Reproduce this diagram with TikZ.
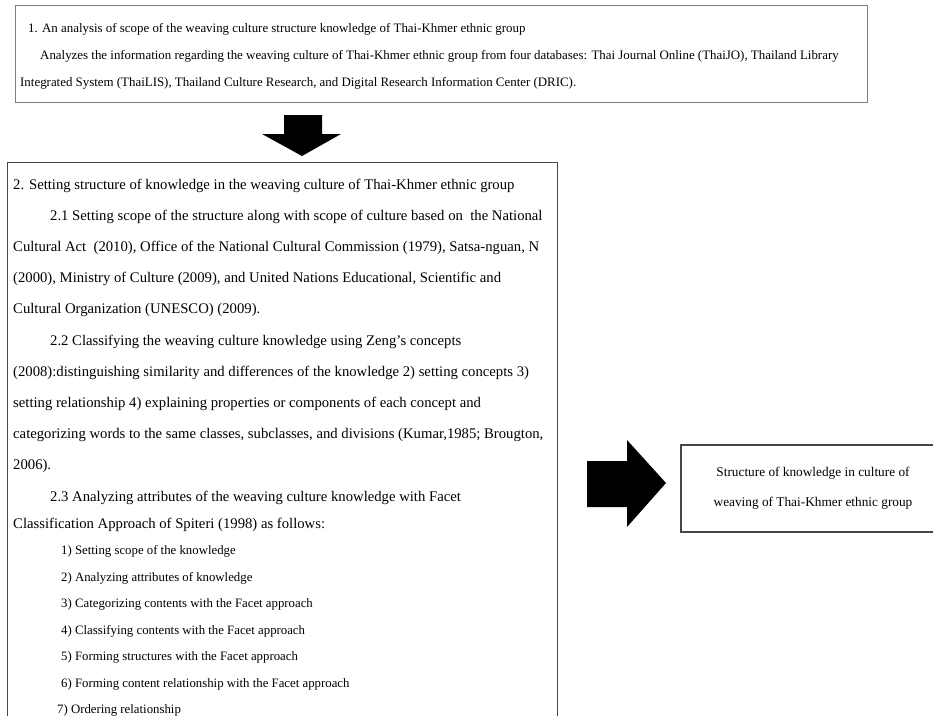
\documentclass[tikz,border=0pt]{standalone}
\usepackage{fontspec}
\setmainfont{Liberation Serif}
\usetikzlibrary{positioning,calc}
\definecolor{framegray}{RGB}{70,70,70}
\tikzset{
  framebox/.style={
    rectangle, draw=framegray, line width=1.3pt, fill=white,
    anchor=north west, inner sep=0pt
  },
  headline/.style={
    anchor=base west, inner sep=0pt,
    font=\fontsize{12.9}{15}\selectfont
  },
  bodyline/.style={
    anchor=base west, inner sep=0pt,
    font=\fontsize{14.7}{16}\selectfont
  },
  listline/.style={
    anchor=base west, inner sep=0pt,
    font=\fontsize{12.8}{15}\selectfont
  },
  resultbox/.style={
    framebox, anchor=center, align=center,
    minimum width=264pt, minimum height=87pt,
    font=\fontsize{13.3}{30}\selectfont
  },
  blockarrow/.style={fill=black}
}

\begin{document}
\begin{tikzpicture}[x=1pt, y=1pt]
  \useasboundingbox (0,0) rectangle (933,-715);
  \clip (0,0) rectangle (933,-715);

  \node[framebox, draw=framegray!70, minimum width=852pt, minimum height=97pt] (box1) at (15,-5) {};
  \node[headline] (head1) at (28,-32)
    {1. An analysis of scope of the weaving culture structure knowledge of Thai-Khmer ethnic group};
  \node[headline] (head2) at (40,-59)
    {Analyzes the information regarding the weaving culture of Thai-Khmer ethnic group from four databases: Thai Journal Online (ThaiJO), Thailand Library};
  \node[headline] (head3) at (20,-86)
    {Integrated System (ThaiLIS), Thailand Culture Research, and Digital Research Information Center (DRIC).};

  \node[framebox, minimum width=550pt, minimum height=600pt] (box2) at (7,-162) {};
  \foreach \txt [count=\i from 0] in {
      {2. Setting structure of knowledge in the weaving culture of Thai-Khmer ethnic group},
      {\hspace*{37pt}2.1 Setting scope of the structure along with scope of culture based on \ the National},
      {Cultural Act \ (2010), Office of the National Cultural Commission (1979), Satsa-nguan, N},
      {(2000), Ministry of Culture (2009), and United Nations Educational, Scientific and},
      {Cultural Organization (UNESCO) (2009).},
      {\hspace*{37pt}2.2 Classifying the weaving culture knowledge using Zeng’s concepts},
      {(2008):distinguishing similarity and differences of the knowledge 2) setting concepts 3)},
      {setting relationship 4) explaining properties or components of each concept and},
      {categorizing words to the same classes, subclasses, and divisions (Kumar,1985; Brougton,},
      {2006).},
      {\hspace*{37pt}2.3 Analyzing attributes of the weaving culture knowledge with Facet}}
    \node[bodyline] (line\i) at (13,{-189-31.2*\i}) {\txt};
  \node[bodyline] (follows) at (13,-528) {Classification Approach of Spiteri (1998) as follows:};
  \foreach \txt [count=\i] in {
      {Setting scope of the knowledge},
      {Analyzing attributes of knowledge},
      {Categorizing contents with the Facet approach},
      {Classifying contents with the Facet approach},
      {Forming structures with the Facet approach},
      {Forming content relationship with the Facet approach}}
    \node[listline] (step\i) at (61,{-528-26.5*\i}) {\i) \txt};
  \node[listline] (step7) at (57,-713) {7) Ordering relationship};

  \node[resultbox] (box3) at (813,-488.5)
    {Structure of knowledge in culture of\\weaving of Thai-Khmer ethnic group};

  \fill[blockarrow] (284,-115) -- (322,-115) -- (322,-134) -- (341,-134)
    -- (302,-156) -- (262,-134) -- (284,-134) -- cycle;
  \fill[blockarrow] (587,-461) -- (627,-461) -- (627,-440) -- (666,-483)
    -- (627,-527) -- (627,-507) -- (587,-507) -- cycle;
\end{tikzpicture}
\end{document}
